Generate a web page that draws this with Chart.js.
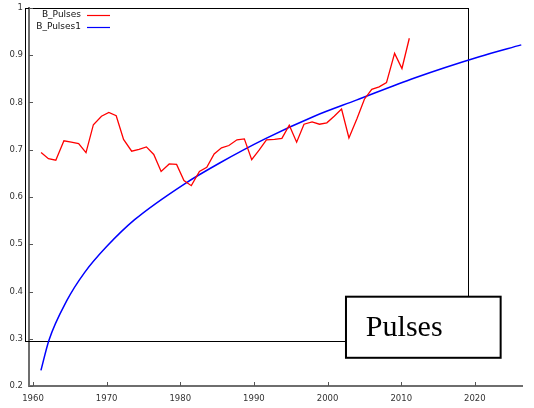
<!DOCTYPE html>
<html>
<head>
<meta charset="utf-8">
<script src="https://cdn.jsdelivr.net/npm/chart.js@4.4.1/dist/chart.umd.min.js"></script>
<style>
  html, body { margin: 0; padding: 0; background: #fff; }
  #wrap { width: 534px; height: 408px; }
</style>
</head>
<body>
<div id="wrap"><canvas id="grafica"></canvas></div>
<script>
// B_Pulses (red)
var pulsesYears = [1961.1, 1962.1, 1963.1, 1964.2, 1965.2, 1966.2, 1967.2, 1968.2, 1969.3, 1970.3,
                   1971.3, 1972.3, 1973.4, 1974.4, 1975.4, 1976.4, 1977.4, 1978.5, 1979.5, 1980.5,
                   1981.5, 1982.6, 1983.6, 1984.6, 1985.6, 1986.6, 1987.7, 1988.7, 1989.7, 1990.7,
                   1991.7, 1992.8, 1993.8, 1994.8, 1995.8, 1996.8, 1997.9, 1998.9, 1999.9, 2000.9,
                   2001.9, 2002.9, 2004.0, 2005.0, 2006.0, 2007.0, 2008.0, 2009.1, 2010.1, 2011.1];
var pulsesValues = [0.694, 0.681, 0.678, 0.719, 0.716, 0.713, 0.694, 0.753, 0.771, 0.779,
                    0.772, 0.722, 0.697, 0.701, 0.706, 0.690, 0.654, 0.670, 0.669, 0.635,
                    0.624, 0.654, 0.663, 0.691, 0.704, 0.709, 0.721, 0.723, 0.679, 0.699,
                    0.721, 0.722, 0.724, 0.752, 0.716, 0.754, 0.759, 0.754, 0.757, 0.771,
                    0.786, 0.725, 0.766, 0.807, 0.828, 0.833, 0.842, 0.904, 0.872, 0.936];

// B_Pulses1 (blue fitted curve)
var fitYears  = [1961.08, 1962.17, 1964.57, 1967, 1970, 1973.8, 1980.6, 1985.35, 1991.5,
                 1998.2, 2003.9, 2011.8, 2020.6, 2026.3];
var fitValues = [0.233, 0.297, 0.380, 0.440, 0.495, 0.552, 0.628, 0.672, 0.723,
                 0.771, 0.805, 0.852, 0.897, 0.922];

var xTicks = [1960, 1970, 1980, 1990, 2000, 2010, 2020];
var xTickLabels = ['1960', '1970', '1980', '1990', '2000', '2010', '2020'];
var yTicks = [0.2, 0.3, 0.4, 0.5, 0.6, 0.7, 0.8, 0.9, 1];
var yTickLabels = ['0.2', '0.3', '0.4', '0.5', '0.6', '0.7', '0.8', '0.9', '1'];
var boxText = 'Pulses';

function toPoints(xs, ys) {
    return xs.map(function (x, i) { return { x: x, y: ys[i] }; });
}

var labelFont = { family: 'DejaVu Sans', size: 8.5 };

// inner ticks, frame, "Pulses" box and legend
var extras = {
    id: 'extras',
    beforeDatasetsDraw: function (chart) {
        var c = chart.ctx, xs = chart.scales.x, ys = chart.scales.y;
        c.save();
        // thin black frame
        c.strokeStyle = '#000';
        c.lineWidth = 1;
        var l = xs.getPixelForValue(1958.9), r = xs.getPixelForValue(2019.07);
        var t = ys.getPixelForValue(1.001), b = ys.getPixelForValue(0.296);
        c.strokeRect(Math.round(l) + 0.5, Math.round(t) + 0.5, Math.round(r - l), Math.round(b - t));
        c.restore();
    },
    afterDraw: function (chart) {
        var c = chart.ctx, xs = chart.scales.x, ys = chart.scales.y, a = chart.chartArea;
        c.save();
        // tick marks pointing inwards
        c.strokeStyle = '#555';
        c.lineWidth = 1;
        xTicks.forEach(function (v) {
            var px = Math.round(xs.getPixelForValue(v)) + 0.5;
            c.beginPath(); c.moveTo(px, a.bottom); c.lineTo(px, a.bottom - 4); c.stroke();
        });
        yTicks.forEach(function (v) {
            var py = Math.round(ys.getPixelForValue(v)) + 0.5;
            c.beginPath(); c.moveTo(a.left, py); c.lineTo(a.left + 4, py); c.stroke();
        });

        // Pulses box
        var bl = xs.getPixelForValue(2002.5), br = xs.getPixelForValue(2023.5);
        var bt = ys.getPixelForValue(0.389), bb = ys.getPixelForValue(0.2597);
        c.fillStyle = '#fff';
        c.fillRect(bl, bt, br - bl, bb - bt);
        c.strokeStyle = '#000';
        c.lineWidth = 2;
        c.strokeRect(bl, bt, br - bl, bb - bt);
        c.fillStyle = '#000';
        c.font = '30px "Liberation Serif"';
        c.textAlign = 'left';
        c.textBaseline = 'alphabetic';
        c.fillText(boxText, xs.getPixelForValue(2005.2), ys.getPixelForValue(0.306));

        // legend
        c.font = '9px "DejaVu Sans"';
        c.textAlign = 'right';
        c.textBaseline = 'middle';
        chart.data.datasets.forEach(function (ds, i) {
            var y = a.top + 7 + i * 12;
            c.fillStyle = '#111';
            c.fillText(ds.label, a.left + 52, y);
            c.strokeStyle = ds.borderColor;
            c.lineWidth = 1.2;
            c.beginPath(); c.moveTo(a.left + 58, y + 0.5); c.lineTo(a.left + 81, y + 0.5); c.stroke();
        });
        c.restore();
    }
};

function noPad(s) {
    s.paddingTop = 0; s.paddingBottom = 0; s.paddingLeft = 0; s.paddingRight = 0;
}

var ctx = document.getElementById('grafica').getContext('2d');
var myChart = new Chart(ctx, {
    type: 'line',
    data: {
        datasets: [{
            label: 'B_Pulses',
            data: toPoints(pulsesYears, pulsesValues),
            borderColor: '#ff0000',
            borderWidth: 1.3,
            pointRadius: 0,
            tension: 0
        }, {
            label: 'B_Pulses1',
            data: toPoints(fitYears, fitValues),
            borderColor: '#0000ff',
            borderWidth: 1.5,
            pointRadius: 0,
            cubicInterpolationMode: 'monotone'
        }]
    },
    options: {
        responsive: true,
        maintainAspectRatio: false,
        animation: false,
        layout: { padding: { top: 8, right: 12, left: 0, bottom: 0 } },
        plugins: { legend: { display: false }, tooltip: { enabled: false } },
        scales: {
            x: {
                type: 'linear',
                min: 1959.46,
                max: 2026.4,
                afterBuildTicks: function (s) { s.ticks = xTicks.map(function (v) { return { value: v }; }); },
                afterFit: function (s) { s.height = 22; noPad(s); },
                grid: { display: false, drawTicks: false },
                border: { color: '#6e6e6e', width: 2 },
                ticks: {
                    font: labelFont, color: '#333', padding: 8, maxRotation: 0, autoSkip: false,
                    callback: function (v, i) { return xTickLabels[i]; }
                }
            },
            y: {
                min: 0.2,
                max: 1,
                afterBuildTicks: function (s) { s.ticks = yTicks.map(function (v) { return { value: v }; }); },
                afterFit: function (s) { s.width = 29; noPad(s); },
                grid: { display: false, drawTicks: false },
                border: { color: '#6e6e6e', width: 2 },
                ticks: {
                    font: labelFont, color: '#333', padding: 6, autoSkip: false,
                    callback: function (v, i) { return yTickLabels[i]; }
                }
            }
        }
    },
    plugins: [extras]
});
</script>
</body>
</html>
